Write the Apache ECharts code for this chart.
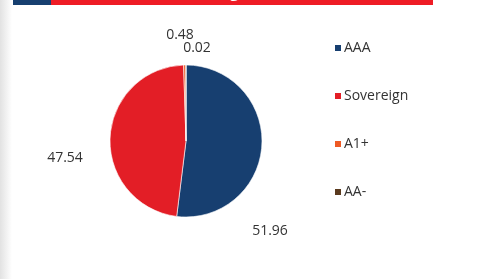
<!DOCTYPE html>
<html>
<head>
<meta charset="utf-8">
<script src="https://cdn.jsdelivr.net/npm/echarts@6/dist/echarts.min.js"></script>
<style>
  html, body { margin: 0; padding: 0; background: #fff; }
  #container { width: 483px; height: 279px; }
</style>
</head>
<body>
<div id="container"></div>
<script>
'use strict';
var categories = ['AAA', 'Sovereign', 'A1+', 'AA-'];
var values = [51.96, 47.54, 0.48, 0.02];
var colors = ['#173f70', '#e31e26', '#ee5a24', '#5a3a1e'];
// where each data label sits (Excel-style placement)
var labelSpots = [[270, 231], [65, 158], [180, 35], [197, 48]];

var dom = document.getElementById('container');
var myChart = echarts.init(dom, null, { renderer: 'canvas' });

var pieData = categories.map(function (name, i) {
    return { name: name, value: values[i], itemStyle: { color: colors[i] } };
});

var option = {
    backgroundColor: '#fff',
    animation: false,
    textStyle: { fontFamily: 'Open Sans, Noto Sans, sans-serif' },
    graphic: [
        {
            type: 'rect', left: 0, top: 0, z: 0,
            shape: { width: 12, height: 279 },
            style: {
                fill: new echarts.graphic.LinearGradient(0, 0, 1, 0, [
                    { offset: 0, color: '#e2e2e2' },
                    { offset: 1, color: '#ffffff' }
                ])
            }
        },
        { type: 'rect', shape: { x: 13, y: 0, width: 38, height: 5 }, style: { fill: '#173f70' } },
        { type: 'rect', shape: { x: 51, y: 0, width: 382, height: 5 }, style: { fill: '#ee1c25' } },
        {
            type: 'text', x: 190, y: -14,
            style: { text: 'Rating Profile', fill: '#fff', font: 'bold 15px Open Sans', textVerticalAlign: 'top' }
        }
    ],
    legend: {
        orient: 'vertical',
        left: 328,
        top: 36,
        itemWidth: 8,
        itemHeight: 8,
        itemGap: 34,
        icon: 'rect',
        selectedMode: false,
        textStyle: { color: '#333', fontSize: 14, fontFamily: 'Open Sans', padding: [0, 0, 0, -3] },
        data: categories
    },
    series: [{
        type: 'pie',
        center: [186, 141],
        radius: 76,
        startAngle: 90,
        clockwise: true,
        silent: true,
        itemStyle: { borderWidth: 0.6, borderColor: '#fff' },
        label: {
            show: true,
            position: 'outside',
            formatter: function (p) { return p.value.toFixed(2); },
            color: '#333',
            fontSize: 14,
            fontFamily: 'Open Sans'
        },
        labelLine: { show: false },
        labelLayout: function (p) {
            var s = labelSpots[p.dataIndex];
            return { x: s[0], y: s[1], align: 'center', verticalAlign: 'middle' };
        },
        data: pieData
    }]
};
myChart.setOption(option);
</script>
</body>
</html>
